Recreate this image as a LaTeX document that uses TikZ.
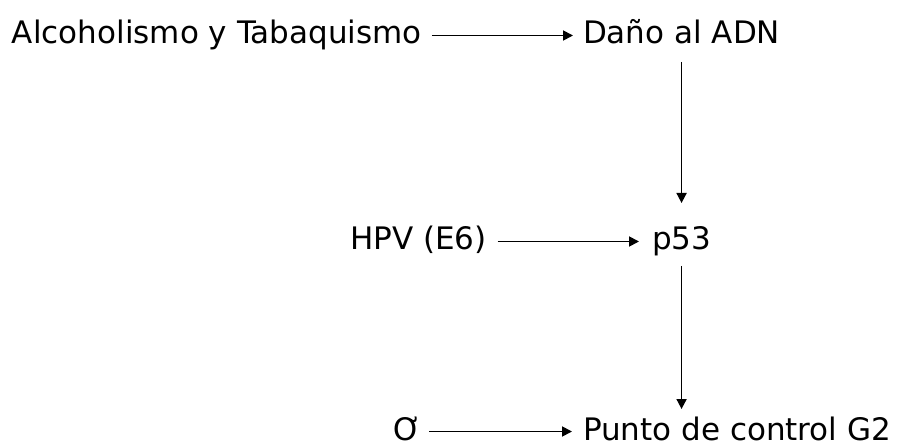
\documentclass[tikz,border=0pt]{standalone}
\usepackage{fontspec}
\setmainfont{DejaVu Sans}
\usetikzlibrary{arrows.meta}

\begin{document}
\begin{tikzpicture}[x=1pt, y=-1pt,
    texto/.style={anchor=base west, inner sep=0pt, outer sep=0pt,
        font=\fontsize{31}{36}\selectfont, text height=23pt, text depth=6pt},
    flecha/.style={line width=1.8pt, -{Triangle[length=10pt, width=10pt]}}]
        % Fix the canvas to the size of the reference
        \useasboundingbox (0,0) rectangle (897,446);

        % Top row: cause and damage
        \node[texto] (alcohol) at (12,44) {Alcoholismo y Tabaquismo};
        \node[texto] (dano) at (583,44) {Daño al ADN};

        % Middle row: the virus acting on p53
        \node[texto] (hpv) at (350,250) {HPV (E6)};
        \node[texto] (p53) at (652,250) {p53};

        % Bottom row: the checkpoint
        \node[texto] (sigma) at (393,440) {Ơ};
        \node[texto] (punto) at (583,440) {Punto de control G2};

        % Horizontal arrows
        \draw[flecha, shorten <=10pt, shorten >=10pt] (alcohol.east) -- (dano.west);
        \draw[flecha, shorten <=11pt, shorten >=13pt] (hpv.east) -- (p53.west);
        \draw[flecha, shorten <=8pt, shorten >=11pt] (sigma.east) -- (punto.west);

        % Vertical arrows down the right column
        \draw[flecha, shorten <=12pt, shorten >=24pt] (dano.south -| p53) -- (p53.north);
        \draw[flecha, shorten <=10pt, shorten >=8pt] (p53.south) -- (punto.north -| p53);

    \end{tikzpicture}
\end{document}
